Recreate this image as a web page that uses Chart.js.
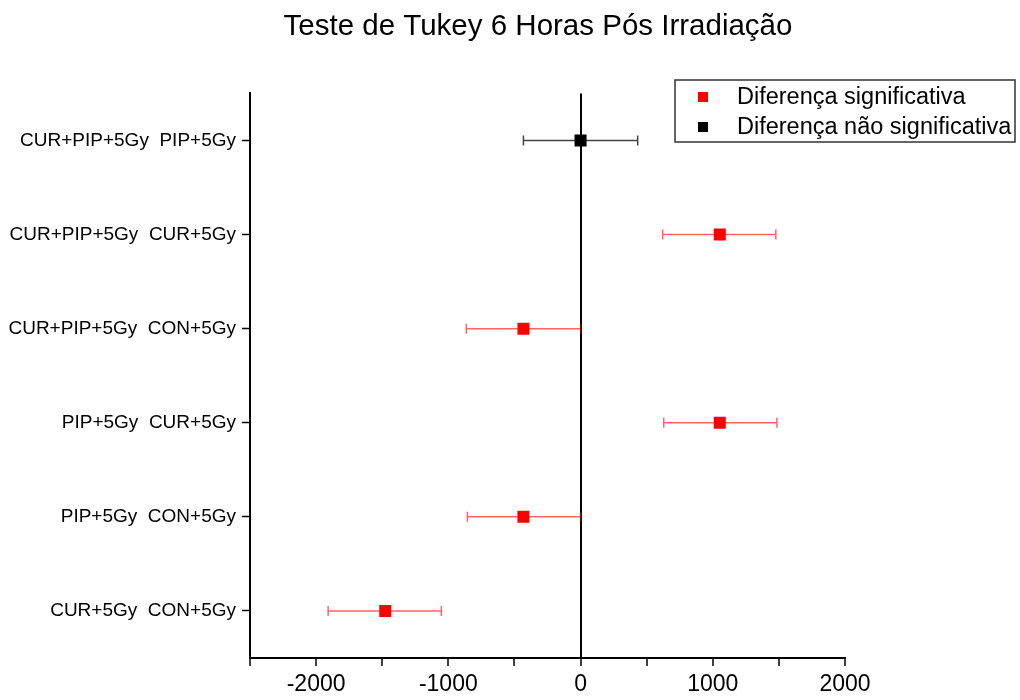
<!DOCTYPE html>
<html>
<head>
<meta charset="utf-8">
<script src="https://cdn.jsdelivr.net/npm/chart.js@4"></script>
<style>
  html, body { margin: 0; padding: 0; background: #fff; }
  #wrap { width: 1020px; height: 700px; }
</style>
</head>
<body>
<div id="wrap"><canvas id="grafico" width="1020" height="700"></canvas></div>
<script>
// comparações do teste de Tukey (de cima para baixo)
var comparacoes = [
    'CUR+PIP+5Gy  PIP+5Gy',
    'CUR+PIP+5Gy  CUR+5Gy',
    'CUR+PIP+5Gy  CON+5Gy',
    'PIP+5Gy  CUR+5Gy',
    'PIP+5Gy  CON+5Gy',
    'CUR+5Gy  CON+5Gy'
];
var diferencas = [0, 1053, -432, 1053, -432, -1477];
var limiteInferior = [-432, 621, -864, 629, -856, -1909];
var limiteSuperior = [432, 1477, 0, 1485, 0, -1053];
var significativa = [false, true, true, true, true, true];
var rotulosX = [-2000, -1000, 0, 1000, 2000];

var FONTE = '"Liberation Sans", Arial, sans-serif';
Chart.defaults.color = '#000';
Chart.defaults.font.family = FONTE;

function montarPontos(sig) {
    var pts = [];
    for (var i = 0; i < comparacoes.length; i++) {
        if (significativa[i] === sig) {
            pts.push({ x: diferencas[i], y: comparacoes[i], lo: limiteInferior[i], hi: limiteSuperior[i] });
        }
    }
    return pts;
}

// barras de erro (intervalos de confiança)
var barrasErro = {
    id: 'barrasErro',
    beforeDatasetsDraw: function(chart) {
        var ctx = chart.ctx;
        var sx = chart.scales.x, sy = chart.scales.y;
        chart.data.datasets.forEach(function(ds) {
            ctx.save();
            ctx.strokeStyle = ds.corErro;
            ctx.lineWidth = 1.5;
            ds.data.forEach(function(p) {
                var y = sy.getPixelForValue(comparacoes.indexOf(p.y));
                var x1 = sx.getPixelForValue(p.lo);
                var x2 = sx.getPixelForValue(p.hi);
                ctx.beginPath();
                ctx.moveTo(x1, y); ctx.lineTo(x2, y);
                ctx.moveTo(x1, y - 5); ctx.lineTo(x1, y + 5);
                ctx.moveTo(x2, y - 5); ctx.lineTo(x2, y + 5);
                ctx.stroke();
            });
            ctx.restore();
        });
    }
};

// legenda com moldura, no canto superior direito
var legendaCaixa = {
    id: 'legendaCaixa',
    afterDraw: function(chart) {
        var ctx = chart.ctx;
        var left = 675, top = 80, w = 340, h = 62;
        ctx.save();
        ctx.strokeStyle = '#333';
        ctx.lineWidth = 1.5;
        ctx.strokeRect(left, top, w, h);
        ctx.font = '23.5px ' + FONTE;
        ctx.textBaseline = 'middle';
        chart.data.datasets.forEach(function(ds, i) {
            var y = top + 17 + i * 30;
            ctx.fillStyle = ds.backgroundColor;
            ctx.fillRect(left + 23, y - 5, 10, 10);
            ctx.fillStyle = '#000';
            ctx.fillText(ds.label, left + 62, y + 1);
        });
        ctx.restore();
    }
};

new Chart(document.getElementById('grafico'), {
    type: 'scatter',
    data: {
        datasets: [
            {
                label: 'Diferença significativa',
                data: montarPontos(true),
                backgroundColor: '#ff0000',
                borderColor: '#ff0000',
                corErro: 'rgba(255,0,0,0.6)',
                pointStyle: 'rect',
                pointRadius: 8.5,
                pointHoverRadius: 8.5,
                borderWidth: 0
            },
            {
                label: 'Diferença não significativa',
                data: montarPontos(false),
                backgroundColor: '#000000',
                borderColor: '#000000',
                corErro: '#444',
                pointStyle: 'rect',
                pointRadius: 8.5,
                pointHoverRadius: 8.5,
                borderWidth: 0
            }
        ]
    },
    options: {
        responsive: false,
        animation: false,
        // padding direito negativo: o título fica centrado um pouco à direita, como no original
        layout: { padding: { left: 0, right: -56, top: 0, bottom: 0 } },
        plugins: {
            legend: { display: false },
            tooltip: { enabled: false },
            title: {
                display: true,
                text: 'Teste de Tukey 6 Horas Pós Irradiação',
                font: { size: 29.5, weight: 'normal', family: FONTE },
                color: '#000',
                padding: { top: 9, bottom: 49 }
            }
        },
        scales: {
            x: {
                type: 'linear',
                min: -2500,
                max: 2000,
                afterFit: function(s) { s.height = 42; },
                afterBuildTicks: function(s) {
                    var t = [];
                    for (var v = -2500; v <= 2000; v += 500) t.push({ value: v });
                    s.ticks = t;
                },
                ticks: {
                    autoSkip: false,
                    maxRotation: 0,
                    font: { size: 23 },
                    padding: 5,
                    callback: function(v) { return rotulosX.indexOf(v) >= 0 ? String(v) : ''; }
                },
                grid: {
                    drawOnChartArea: true,
                    color: function(c) { return c.tick && c.tick.value === 0 ? '#000' : 'rgba(0,0,0,0)'; },
                    lineWidth: 2,
                    tickColor: '#000',
                    tickWidth: 1.5,
                    tickLength: 8
                },
                border: { display: true, color: '#000', width: 2 }
            },
            y: {
                type: 'category',
                labels: comparacoes,
                offset: true,
                afterFit: function(s) { s.width = 250; },
                ticks: { font: { size: 19 }, padding: 6 },
                grid: {
                    drawOnChartArea: false,
                    offset: false,
                    tickColor: '#000',
                    tickWidth: 1.5,
                    tickLength: 8
                },
                border: { display: true, color: '#000', width: 2 }
            },
            // eixo vazio à direita só para reservar espaço da legenda
            direita: {
                type: 'linear',
                position: 'right',
                afterFit: function(s) { s.width = 231; },
                ticks: { display: false },
                grid: { display: false },
                border: { display: false }
            }
        }
    },
    plugins: [barrasErro, legendaCaixa]
});
</script>
</body>
</html>
